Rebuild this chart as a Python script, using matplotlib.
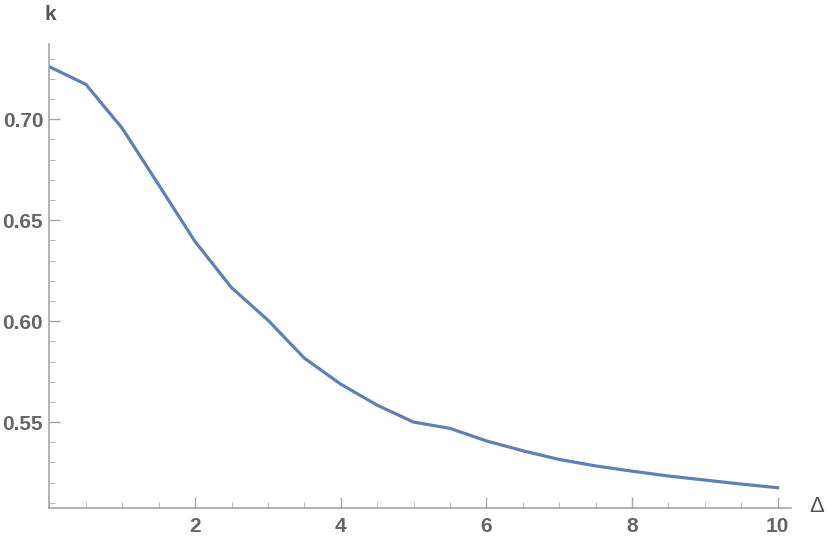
import matplotlib.pyplot as plt
from matplotlib.ticker import MultipleLocator

# data
delta = [0, 0.5, 1, 1.5, 2, 2.5, 3, 3.5, 4, 4.5, 5, 5.5, 6, 6.5, 7, 7.5, 8, 8.5, 9, 9.5, 10]
k = [0.7260, 0.7173, 0.6955, 0.6675, 0.6394, 0.6166, 0.6005, 0.5817, 0.5688, 0.5584,
     0.5500, 0.5469, 0.5407, 0.5358, 0.5315, 0.5283, 0.5257, 0.5233, 0.5213, 0.5193, 0.5175]
xticks = [2, 4, 6, 8, 10]
yticks = [0.55, 0.60, 0.65, 0.70]

plt.rcParams['font.family'] = ['Liberation Sans', 'DejaVu Sans']

W, H = 828, 548
fig = plt.figure(figsize=(W / 100, H / 100), dpi=100)
ax = fig.add_axes([49.5 / W, 39.7 / H, (790.7 - 49.5) / W, (508.3 - 44) / H])

ax.plot(delta, k, color='#5E81B5', lw=2.3, solid_joinstyle='miter')

ax.set_xlim(0, 10.18)
ax.set_ylim(0.5073, 0.7373)

for s in ['top', 'right']:
    ax.spines[s].set_visible(False)
for s in ['left', 'bottom']:
    ax.spines[s].set_color('#a6a6a6')
    ax.spines[s].set_linewidth(1.2)

ax.xaxis.set_minor_locator(MultipleLocator(0.5))
ax.yaxis.set_minor_locator(MultipleLocator(0.01))
ax.set_xticks(xticks)
ax.set_xticklabels([str(v) for v in xticks])
ax.set_yticks(yticks)
ax.set_yticklabels(['%.2f' % v for v in yticks])

ax.tick_params(which='major', direction='in', length=8, width=1, color='#a6a6a6',
               labelsize=15, labelcolor='#666666')
ax.tick_params(axis='y', which='major', pad=4.5)
ax.tick_params(axis='x', which='major', pad=6.5)
ax.tick_params(which='minor', direction='in', length=4.5, width=0.8, color='#bdbdbd')
for lab in ax.get_xticklabels() + ax.get_yticklabels():
    lab.set_fontweight('bold')

fig.text(50 / W, 1 - 15 / H, 'k', fontsize=15, fontweight='bold', color='#555555',
         ha='center', va='center')
fig.text(817 / W, 1 - 506 / H, 'Δ', fontsize=16, color='#555555',
         ha='center', va='center')

fig.savefig('out.png', dpi=100)
